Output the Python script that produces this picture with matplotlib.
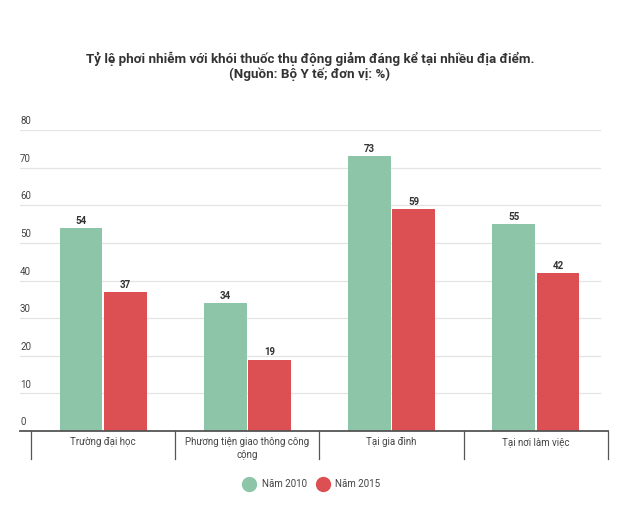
import matplotlib.pyplot as plt
import numpy as np
from matplotlib.lines import Line2D

plt.rcParams['font.family'] = ['Roboto', 'DejaVu Sans']

categories = ['Trường đại học', 'Phương tiện giao thông công\ncộng', 'Tại gia đình', 'Tại nơi làm việc']
nam_2010 = [54, 34, 73, 55]
nam_2015 = [37, 19, 59, 42]
series_names = ['Năm 2010', 'Năm 2015']
yticks = [0, 10, 20, 30, 40, 50, 60, 70, 80]

green = '#8cc5a7'
red = '#dc4f53'

fig = plt.figure(figsize=(6.2, 5.12), dpi=100)
# axes in pixel terms: left 20, right 608, bottom at y=431, top (80) at y=130
ax = fig.add_axes([20 / 620, (512 - 431) / 512, 588 / 620, 301 / 512])

x = np.arange(len(categories))
w = 0.296
b1 = ax.bar(x - 0.153, nam_2010, w, color=green)
b2 = ax.bar(x + 0.153, nam_2015, w, color=red)
for bars in (b1, b2):
    for r in bars:
        ax.text(r.get_x() + r.get_width() / 2, r.get_height() + 0.6, f'{int(r.get_height())}',
                ha='center', va='bottom', fontsize=7, fontweight='bold', color='#333333')

ax.set_xlim(-0.576, 3.5)
ax.set_ylim(0, 80)

for v in yticks:
    if v > 0:
        ax.axhline(v, xmin=0, xmax=0.987, color='#e4e4e4', lw=0.9, zorder=0)
    ax.text(-0.576, v + 1.0, str(v), ha='left', va='bottom', fontsize=7, color='#444444')

for s in ax.spines.values():
    s.set_visible(False)
ax.set_xticks([])
ax.set_yticks([])
ax.axhline(0, color='#555555', lw=1.3, clip_on=False)

# category separators below the axis
for sx in np.arange(-0.5, len(categories), 1.0):
    ax.plot([sx, sx], [0, -7.5], color='#555555', lw=0.9, clip_on=False)
for i, c in enumerate(categories):
    ax.text(i, -1.6, c, ha='center', va='top', fontsize=7, color='#444444', linespacing=1.4)

fig.text(0.5, 1 - 66 / 512, 'Tỷ lệ phơi nhiễm với khói thuốc thụ động giảm đáng kể tại nhiều địa điểm.\n(Nguồn: Bộ Y tế; đơn vị: %)',
         ha='center', va='center', fontsize=9.6, fontweight='bold', color='#333333', linespacing=1.15)

handles = [Line2D([], [], marker='o', ls='', markersize=10, color=green),
           Line2D([], [], marker='o', ls='', markersize=10, color=red)]
fig.legend(handles, series_names, loc='center', bbox_to_anchor=(0.5, (512 - 484) / 512), ncol=2,
           frameon=False, fontsize=7, handletextpad=0.3, columnspacing=0.6, labelcolor='#444444')

fig.savefig('out.png', dpi=100)
